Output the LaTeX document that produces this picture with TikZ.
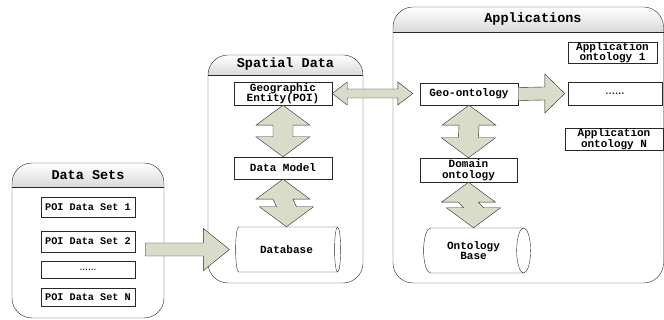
\documentclass[tikz,border=0pt]{standalone}
\usepackage{fontspec}
\setmonofont{Liberation Mono}
\usetikzlibrary{shapes.geometric,calc}
\definecolor{arrowfill}{RGB}{216,220,200}
\definecolor{edgegray}{RGB}{40,40,40}
\tikzset{
  box/.style={draw=edgegray,fill=white,inner sep=0pt,align=center,
    font=\ttfamily\bfseries\fontsize{11}{10.5}\selectfont},
  poi/.style={box,minimum width=94pt,font=\ttfamily\bfseries\fontsize{10.2}{10}\selectfont},
  dots/.style={font=\bfseries\fontsize{#1}{#1}\selectfont},
  store/.style={box,shape=cylinder,aspect=0.75},
  panel/.style={draw=edgegray,rounded corners=20pt},
  headfill/.style={top color=white,bottom color=gray!30},
  title/.style={font=\ttfamily\bfseries\fontsize{13.5}{14}\selectfont},
  fat/.style={draw=edgegray,fill=arrowfill,line join=miter},
}
% fat double arrows: top point, bottom point / left point, right point
\newcommand{\vbiarrow}[2]{%
  \draw[fat] (#1) -- ++(27pt,-20pt) -- ++(-17pt,0pt) -- ($(#2)+(10pt,20pt)$) -- ++(17pt,0pt)
    -- (#2) -- ++(-27pt,20pt) -- ++(17pt,0pt) -- ($(#1)+(-10pt,-20pt)$) -- ++(-17pt,0pt) -- cycle;}
\newcommand{\hbiarrow}[2]{%
  \draw[fat] (#1) -- ++(15pt,11.5pt) -- ++(0pt,-7pt) -- ($(#2)+(-15pt,4.5pt)$) -- ++(0pt,7pt)
    -- (#2) -- ++(-15pt,-11.5pt) -- ++(0pt,7pt) -- ($(#1)+(15pt,-4.5pt)$) -- ++(0pt,-7pt) -- cycle;}
% fat single arrow: start, tip, half head width, head length
\newcommand{\harrow}[4]{%
  \draw[fat] ($(#1)+(0pt,6.5pt)$) -- ($(#2)+(-#4,6.5pt)$) -- ($(#2)+(-#4,#3)$) -- (#2)
    -- ($(#2)+(-#4,-#3)$) -- ($(#2)+(-#4,-6.5pt)$) -- ($(#1)+(0pt,-6.5pt)$) -- cycle;}
\begin{document}
\begin{tikzpicture}[x=1pt,y=-1pt]
  \useasboundingbox (0,0) rectangle (664,320);
  % panels
  \shade[headfill] (12,187) [rounded corners=20pt]-- (12,163) -- (164,163) [sharp corners]-- (164,187) -- cycle;
  \draw[panel] (12,163) rectangle (164,318); \draw[edgegray] (12,187) -- (164,187);
  \shade[headfill] (208,75) [rounded corners=20pt]-- (208,55) -- (363,55) [sharp corners]-- (363,75) -- cycle;
  \draw[panel] (208,55) rectangle (363,283); \draw[edgegray] (208,75) -- (363,75);
  \shade[headfill] (393,32) [rounded corners=20pt]-- (393,7) -- (663.5,7) [sharp corners]-- (663.5,32) -- cycle;
  \draw[panel] (393,7) rectangle (663.5,283); \draw[edgegray] (393,32) -- (663.5,32);
  \node[title] (tsets) at (88,175) {Data Sets};
  \node[title] (tspatial) at (285.5,64) {Spatial Data};
  \node[title] (tapps) at (533,19.5) {Applications};
  % data sets
  \node[poi,minimum height=20pt] (ds1) at (88,207) {POI Data Set 1};
  \node[poi,minimum height=21pt] (ds2) at (88,241.5) {POI Data Set 2};
  \node[poi,minimum height=17pt,dots=8.5] (ds3) at (88,269.5) {......};
  \node[poi,minimum height=18pt] (ds4) at (88,297) {POI Data Set N};
  % spatial data
  \node[box,minimum width=98pt,minimum height=23pt] (geo) at (283,93.5) {Geographic\\Entity(POI)};
  \node[box,minimum width=98pt,minimum height=22pt] (dm) at (283,168) {Data Model};
  \node[store,minimum height=105pt,minimum width=45pt] (db) at (286.5,249.5) {Database};
  % applications
  \node[box,minimum width=98pt,minimum height=22pt] (geoont) at (469,94) {Geo-ontology};
  \node[box,minimum width=97pt,minimum height=24pt] (dom) at (468.5,170) {Domain\\ontology};
  \node[store,minimum height=107pt,minimum width=45pt] (ob) at (473.5,250.5) {Ontology\\Base};
  \node[box,minimum width=89pt,minimum height=21pt] (ao1) at (612.5,52.5) {Application\\ontology 1};
  \node[box,minimum width=94pt,minimum height=23pt,dots=10] (aodots) at (615,93.5) {......};
  \node[box,minimum width=98pt,minimum height=22pt] (aoN) at (614,139) {Application\\ontology N};
  % fat arrows
  \vbiarrow{geo.south}{dm.north}
  \vbiarrow{dm.south}{db.north}
  \vbiarrow{geoont.south}{dom.north}
  \vbiarrow{dom.south}{ob.north}
  \coordinate (hr) at ($(geo.east -| geoont.west)+(-7pt,0pt)$);
  \hbiarrow{geo.east}{hr}
  \coordinate (dsout) at ($(ds2.east |- db.west)+(10pt,0pt)$);
  \coordinate (dbin) at ($(db.west)+(-6pt,0pt)$);
  \harrow{dsout}{dbin}{21pt}{26pt}
  \coordinate (aoin) at ($(aodots.west)+(-3pt,0pt)$);
  \harrow{geoont.east}{aoin}{19.5pt}{20pt}
\end{tikzpicture}
\end{document}
